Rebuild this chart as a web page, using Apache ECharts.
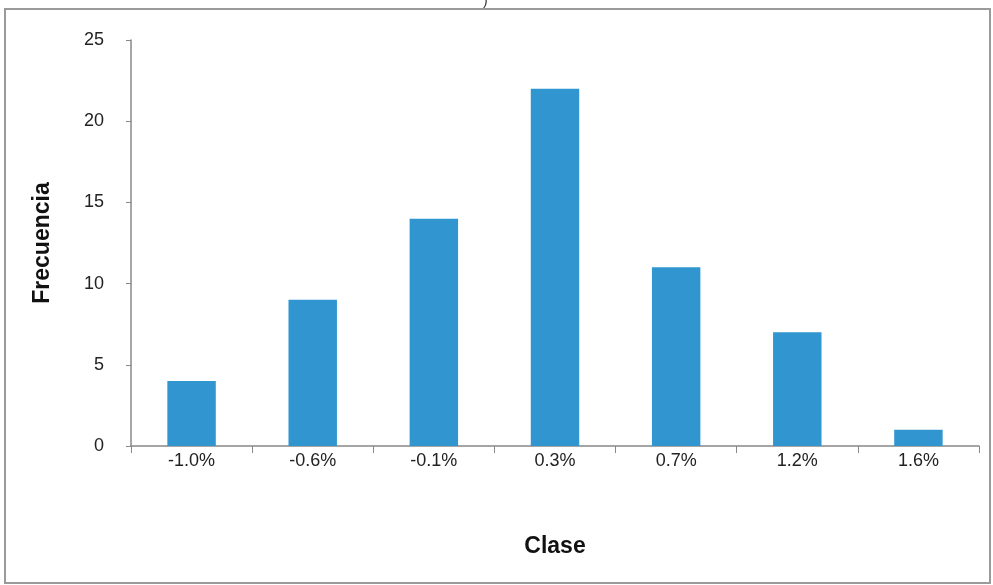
<!DOCTYPE html>
<html>
<head>
<meta charset="utf-8">
<script src="https://cdn.jsdelivr.net/npm/echarts@6/dist/echarts.min.js"></script>
<style>
  html, body { margin: 0; padding: 0; background: #fff; }
  #main { width: 993px; height: 585px; }
</style>
</head>
<body>
<div id="main"></div>
<script>
  // data
  var clases = ['-1.0%', '-0.6%', '-0.1%', '0.3%', '0.7%', '1.2%', '1.6%'];
  var frecuencia = [4, 9, 14, 22, 11, 7, 1];

  var myChart = echarts.init(document.getElementById('main'));

  var option = {
    animation: false,
    backgroundColor: '#fff',
    textStyle: { fontFamily: 'Liberation Sans, Arial, sans-serif' },
    grid: { left: 131, top: 40, right: 14, bottom: 139 },
    graphic: [
      {
        type: 'rect',
        shape: { x: 5, y: 9, width: 985, height: 574 },
        style: { fill: 'none', stroke: '#9a9a9a', lineWidth: 2 },
        silent: true
      },
      {
        type: 'text',
        left: 483, top: -6,
        style: { text: ')', fontSize: 14, fill: '#333', fontFamily: 'Liberation Sans' }
      }
    ],
    xAxis: {
      type: 'category',
      data: clases,
      name: 'Clase',
      nameLocation: 'middle',
      nameGap: 89,
      nameTextStyle: { fontSize: 23, fontWeight: 'bold', color: '#111' },
      axisLine: { lineStyle: { color: '#888', width: 1.5 } },
      axisTick: { show: true, alignWithLabel: false, length: 7, lineStyle: { color: '#888' } },
      axisLabel: { color: '#222', fontSize: 18, margin: 6 }
    },
    yAxis: {
      type: 'value',
      min: 0,
      max: 25,
      interval: 5,
      name: 'Frecuencia',
      nameLocation: 'middle',
      nameGap: 77,
      nameTextStyle: { fontSize: 23, fontWeight: 'bold', color: '#111' },
      axisLine: { show: true, lineStyle: { color: '#888', width: 1.5 } },
      axisTick: { show: true, length: 5, lineStyle: { color: '#888' } },
      axisLabel: { color: '#222', fontSize: 18, margin: 27 },
      splitLine: { show: false }
    },
    series: [
      {
        type: 'bar',
        data: frecuencia,
        barWidth: '40%',
        itemStyle: { color: '#3196D0' }
      }
    ]
  };

  myChart.setOption(option);
</script>
</body>
</html>
